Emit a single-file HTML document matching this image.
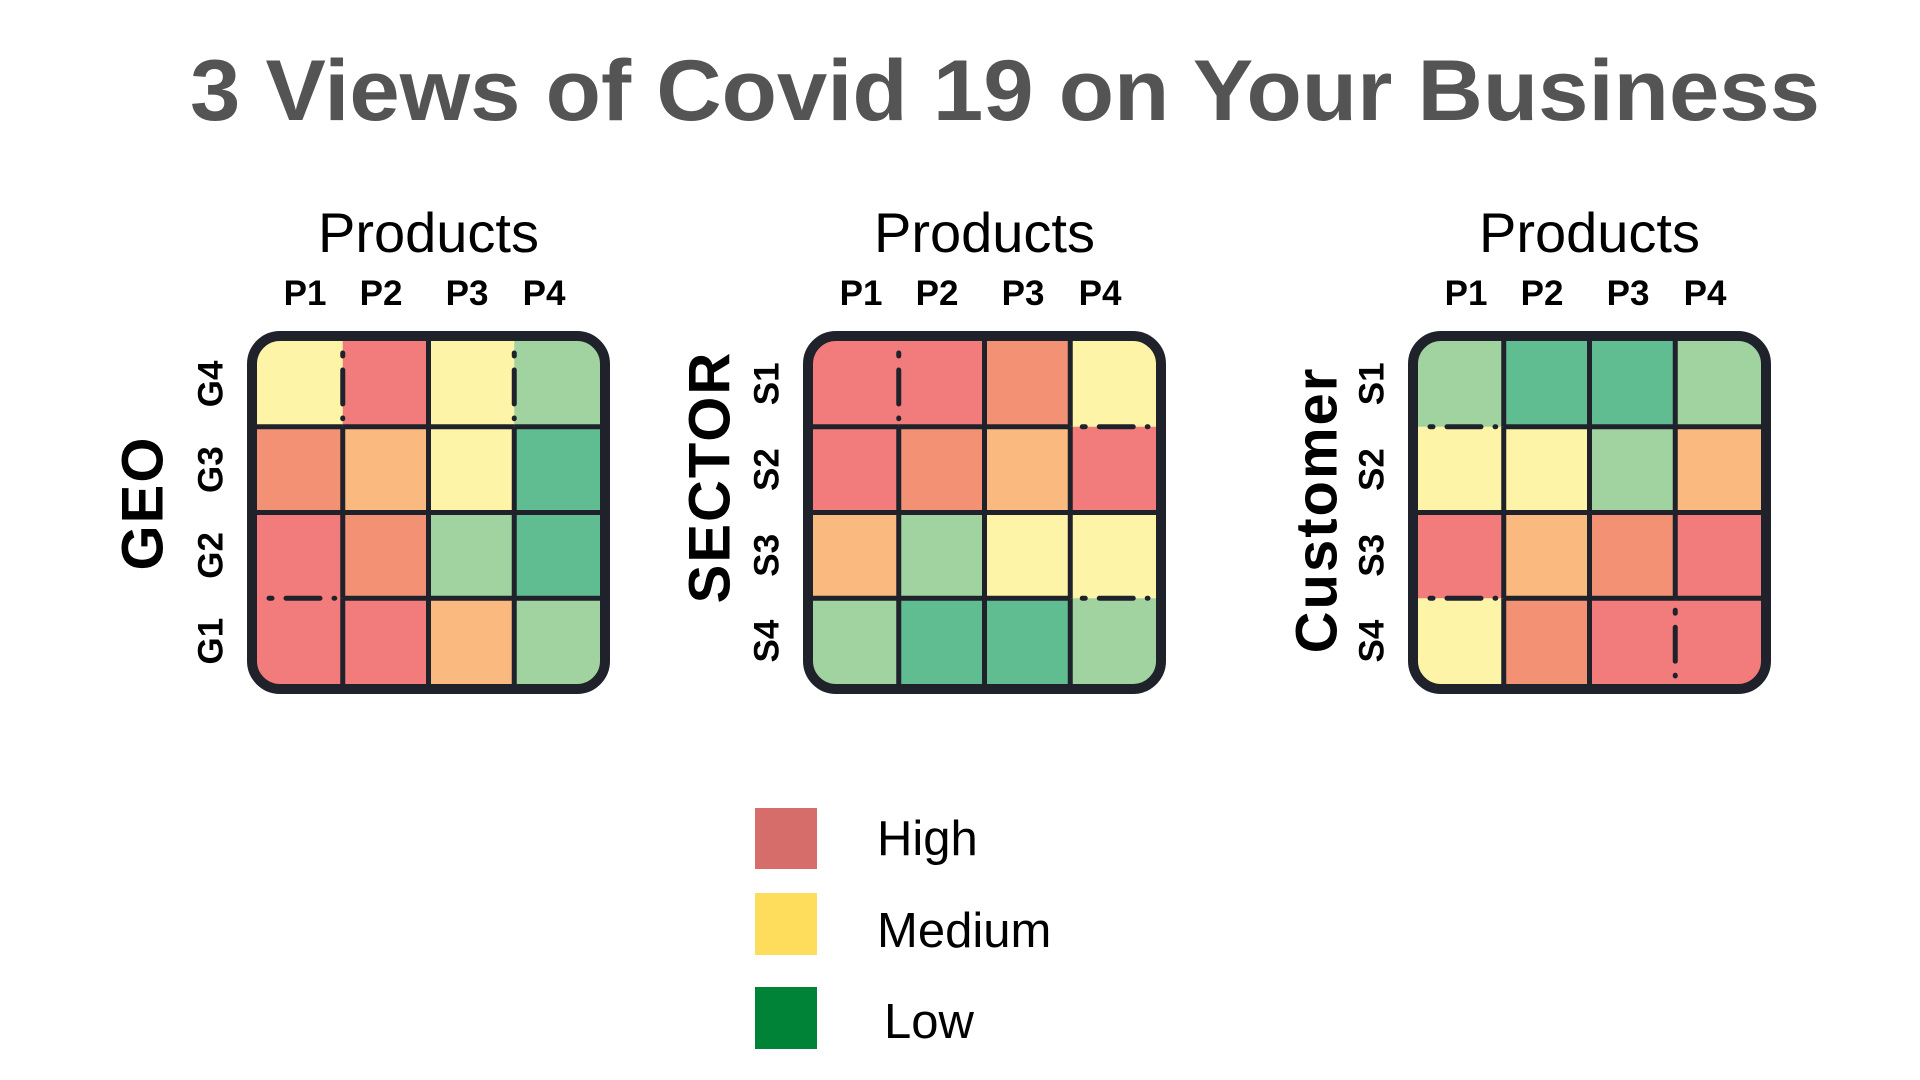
<!DOCTYPE html>
<html><head><meta charset="utf-8"><style>
html,body{margin:0;padding:0;background:#fff;}
svg{display:block;font-family:"Liberation Sans",sans-serif;}
</style></head>
<body>
<svg id="chart" width="1920" height="1080" viewBox="0 0 1920 1080" xmlns="http://www.w3.org/2000/svg">
<text x="190" y="120" font-size="86" font-weight="bold" fill="#545454" textLength="1630" lengthAdjust="spacingAndGlyphs">3 Views of Covid 19 on Your Business</text>
<g id="panels"></g>
<g>
<rect x="755" y="808" width="62" height="61" fill="#D66D6B"/>
<text x="877" y="855" font-size="49" fill="#000">High</text>
<rect x="755" y="893" width="62" height="62" fill="#FEDD5D"/>
<text x="877" y="947" font-size="49" fill="#000">Medium</text>
<rect x="755" y="987" width="62" height="62" fill="#008237"/>
<text x="884" y="1038" font-size="49" fill="#000">Low</text>
</g>
</svg>
<script>
const columns = ['P1','P2','P3','P4'];
const geoRows = ['G4','G3','G2','G1'];
const sectorRows = ['S1','S2','S3','S4'];
const customerRows = ['S1','S2','S3','S4'];
// impact level: 5 = highest (red) ... 0 = lowest (green)
const geoValues = [[2,5,2,1],[4,3,2,0],[5,4,1,0],[5,5,3,1]];
const sectorValues = [[5,5,4,2],[5,4,3,5],[3,1,2,2],[1,0,0,1]];
const customerValues = [[1,0,0,1],[2,2,1,3],[5,3,4,5],[2,4,5,5]];

const palette = ['#60BD91','#A1D3A1','#FDF4A7','#FAB97F','#F39174','#F27B7B'];
const NS = 'http://www.w3.org/2000/svg';
const root = document.getElementById('panels');
function mk(tag, attrs, parent){ const e=document.createElementNS(NS,tag); for(const k in attrs) e.setAttribute(k,attrs[k]); parent.appendChild(e); return e; }

const panels = [
  {key:'geo', title:'GEO', rows:geoRows, vals:geoValues, bx:247, titleX:143, titleY:503,
   dashed:[['v',0,0],['v',2,0],['h',2,0]]},
  {key:'sector', title:'SECTOR', rows:sectorRows, vals:sectorValues, bx:803, titleX:710, titleY:477,
   dashed:[['v',0,0],['h',0,3],['h',2,3]]},
  {key:'customer', title:'Customer', rows:customerRows, vals:customerValues, bx:1408, titleX:1317, titleY:510,
   dashed:[['h',0,0],['h',2,0],['v',2,3]]}
];
const by = 331, box = 363, inner0 = 10, inner1 = 353;
const cell = (inner1 - inner0) / 4;
const colLabelX = [58, 134, 220, 297];

panels.forEach(p => {
  const g = mk('g', {}, root);
  
  
  const xs = i => p.bx + inner0 + i * cell;
  const ys = j => by + inner0 + j * cell;
  const clipId = 'clip-' + p.key;
  const cp = mk('clipPath', {id: clipId}, g);
  mk('rect', {x:p.bx+5, y:by+5, width:box-10, height:box-10, rx:26}, cp);
  const cg = mk('g', {'clip-path':'url(#'+clipId+')'}, g);
  p.vals.forEach((row, j) => row.forEach((v, i) => {
    const r = mk('rect', {x:xs(i), y:ys(j), width:cell+0.5, height:cell+0.5, fill:palette[v]}, cg);
    
    
  }));
  // grid lines
  const isDashed = (o, k, s) => p.dashed.some(d => d[0]===o && d[1]===k && d[2]===s);
  for (let k = 0; k < 3; k++) {
    for (let s = 0; s < 4; s++) {
      const dashed = isDashed('v', k, s);
      const a = {x1:xs(k+1), x2:xs(k+1), y1:ys(s), y2:ys(s+1), stroke:'#20222B', 'stroke-width':5};
      if (dashed) { a['stroke-dasharray']='3 14 34 14'; a['stroke-linecap']='round'; a.y1 = ys(s)+12; a.y2 = ys(s+1)-8; }
      const l = mk('line', a, g);
      
      
      const dh = isDashed('h', k, s);
      const b = {y1:ys(k+1), y2:ys(k+1), x1:xs(s), x2:xs(s+1), stroke:'#20222B', 'stroke-width':5};
      if (dh) { b['stroke-dasharray']='3 14 34 14'; b['stroke-linecap']='round'; b.x1 = xs(s)+12; b.x2 = xs(s+1)-8; }
      const h = mk('line', b, g);
      
      
    }
  }
  const frame = mk('rect', {x:p.bx+5, y:by+5, width:box-10, height:box-10, rx:28, fill:'none', stroke:'#20222B', 'stroke-width':10}, g);
  
  
  const pt = mk('text', {x:p.bx+box/2, y:252, 'font-size':56, 'text-anchor':'middle', fill:'#000'}, g);
  pt.textContent = 'Products';
  
  
  columns.forEach((c, i) => {
    const t = mk('text', {x:p.bx+colLabelX[i], y:305, 'font-size':35, 'font-weight':'bold', 'text-anchor':'middle', fill:'#000'}, g);
    t.textContent = c;
    
    
  });
  p.rows.forEach((r, j) => {
    const cy = ys(j) + cell/2;
    const cx = p.bx - 36;
    const t = mk('text', {x:cx, y:cy, 'font-size':35, 'font-weight':'bold', 'text-anchor':'middle', 'dominant-baseline':'central', fill:'#000', transform:'rotate(-90 '+cx+' '+cy+')'}, g);
    t.textContent = r;
    
    
  });
  const yt = mk('text', {x:p.titleX, y:p.titleY, 'font-size':58, 'font-weight':'bold', 'text-anchor':'middle', 'dominant-baseline':'central', fill:'#000', 'letter-spacing':'2', transform:'rotate(-90 '+p.titleX+' '+p.titleY+')'}, g);
  yt.textContent = p.title;
  
  
});
</script>
</body></html>
